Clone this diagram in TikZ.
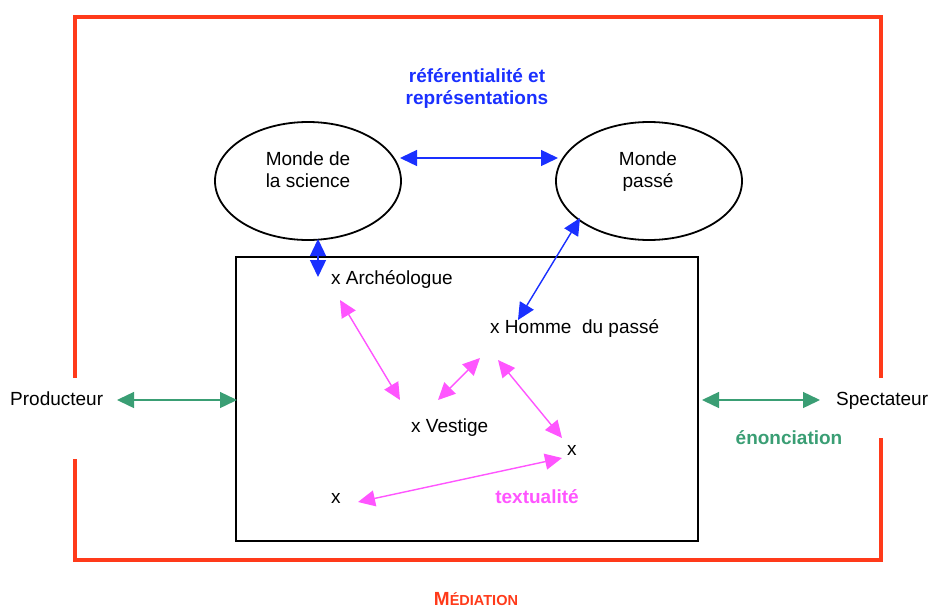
\documentclass[tikz,border=0pt]{standalone}
\usepackage{fontspec}
\setmainfont{Liberation Sans}
\usetikzlibrary{arrows.meta,shapes.geometric}
\definecolor{medred}{HTML}{FF3A1A}
\definecolor{refblue}{HTML}{1A30FF}
\definecolor{txtmag}{HTML}{FF55FF}
\definecolor{enongreen}{HTML}{3A9E74}
\tikzset{
  lbl/.style={font=\fontsize{19}{22}\selectfont, inner sep=0pt, anchor=base west},
  world/.style={draw, ellipse, line width=1.8pt, minimum width=186pt, minimum height=118pt, inner sep=0pt},
  wtext/.style={align=center, inner sep=0pt, font=\fontsize{19}{22}\selectfont},
  tip/.style={{Triangle[length=17pt,width=16pt]}-{Triangle[length=17pt,width=16pt]}, line width=1.4pt},
  blu/.style={tip, draw=refblue, fill=refblue},
  mag/.style={tip, draw=txtmag, fill=txtmag},
  grn/.style={tip, draw=enongreen, fill=enongreen},
  redline/.style={draw=medred, line width=3.5pt},
}
\begin{document}
\begin{tikzpicture}[x=1pt,y=-1pt]
\useasboundingbox (0,0) rectangle (934,608);
% mediation frame
\draw[redline] (75,378) -- (75,17) -- (881,17) -- (881,378);
\draw[redline] (75,459) -- (75,560) -- (881,560) -- (881,438);
\node[font=\bfseries\fontsize{19}{22}\selectfont, text=medred, inner sep=0pt, anchor=base] (med) at (476,605) {M\fontsize{14.5}{16}\selectfont ÉDIATION};
% inner box
\draw[line width=1.8pt] (236,257) rectangle (698,541);
% worlds
\node[world] (sci) at (308,181) {};
\node[wtext] (scit) at (308,170) {Monde de\\la science};
\node[world] (past) at (649,181) {};
\node[wtext] (pastt) at (648,172) {Monde\\passé};
\node[font=\bfseries\fontsize{19}{22}\selectfont, text=refblue, align=center, inner sep=0pt] (ref) at (477,89) {référentialité et\\représentations};
% labels
\node[lbl] (arch) at (331,284) {x Archéologue};
\node[lbl] (homme) at (490,333) {x Homme\ \ du passé};
\node[lbl] (vest) at (411,432) {x Vestige};
\node[lbl] (x1) at (567,455) {x};
\node[lbl] (x2) at (331,503) {x};
\node[font=\bfseries\fontsize{19}{22}\selectfont, text=txtmag, inner sep=0pt] (text) at (537,497) {textualité};
\node[lbl] (prod) at (10,405) {Producteur};
\node[lbl] (spec) at (836,405) {Spectateur};
\node[font=\bfseries\fontsize{19}{22}\selectfont, text=enongreen, inner sep=0pt] (enon) at (789,438) {énonciation};
% coordinates of connector ends
\coordinate (sciE) at (400,158);
\coordinate (pastW) at (558,158);
\coordinate (sciS) at (318,239);
\coordinate (archN) at (318,277);
\coordinate (pastSW) at (580,218);
\coordinate (hommeN) at (518,320);
\coordinate (a1) at (340,300);
\coordinate (v1) at (400,400);
\coordinate (v2) at (438,400);
\coordinate (h1) at (480,358);
\coordinate (h2) at (498,360);
\coordinate (x1a) at (562,438);
\coordinate (x1b) at (562,458);
\coordinate (x2a) at (358,502);
\coordinate (prodE) at (117,400);
\coordinate (boxW) at (237,400);
\coordinate (boxE) at (702,400);
\coordinate (specW) at (820,400);
% connectors
\draw[blu] (sciE) -- (pastW);
\draw[blu] (sciS) -- (archN);
\draw[blu] (pastSW) -- (hommeN);
\draw[mag] (a1) -- (v1);
\draw[mag] (v2) -- (h1);
\draw[mag] (h2) -- (x1a);
\draw[mag] (x2a) -- (x1b);
\draw[grn] (prodE) -- (boxW);
\draw[grn] (boxE) -- (specW);
\end{tikzpicture}
\end{document}
